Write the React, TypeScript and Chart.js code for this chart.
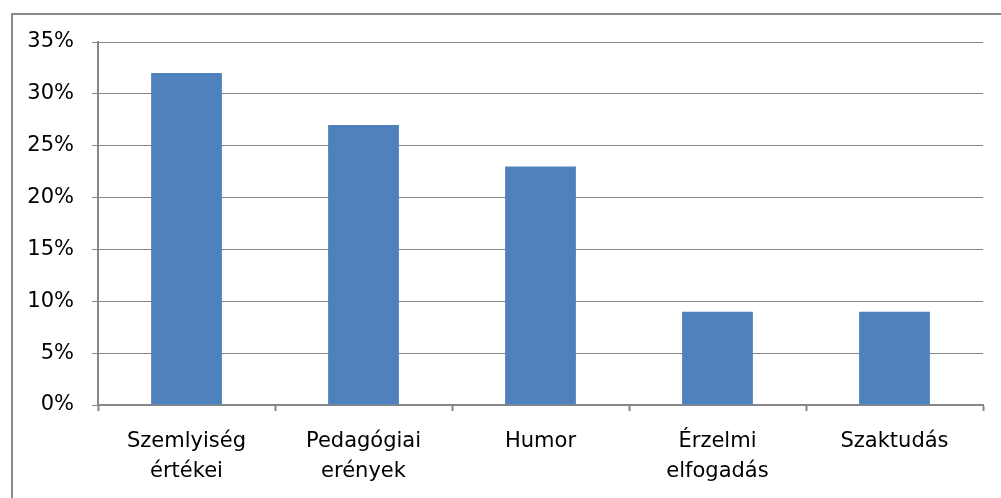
import React, { useEffect, useRef } from "react";
import { Chart, registerables } from "chart.js";

Chart.register(...registerables);

const categories: string[][] = [
  ["Szemlyiség", "értékei"],
  ["Pedagógiai", "erények"],
  ["Humor"],
  ["Érzelmi", "elfogadás"],
  ["Szaktudás"],
];
const values: number[] = [32, 27, 23, 9, 9];
const yMin = 0;
const yMax = 35;
const yStep = 5;

const FONT = "'DejaVu Sans', sans-serif";
const GRID = "#878787";

export default function App() {
  const ref = useRef<HTMLCanvasElement | null>(null);

  useEffect(() => {
    if (!ref.current) return;
    const chart = new Chart(ref.current, {
      type: "bar",
      data: {
        labels: categories,
        datasets: [
          {
            data: values,
            backgroundColor: "#4F81BD",
            borderWidth: 0,
            barPercentage: 0.4,
            categoryPercentage: 1,
          },
        ],
      },
      options: {
        responsive: false,
        animation: false,
        devicePixelRatio: 1,
        layout: { padding: { left: 0, right: 18, top: 42, bottom: 0 } },
        plugins: { legend: { display: false }, tooltip: { enabled: false } },
        scales: {
          x: {
            afterFit: (s: any) => {
              s.height = 93;
            },
            grid: {
              offset: true,
              drawOnChartArea: false,
              drawTicks: true,
              tickLength: 6,
              color: GRID,
              tickColor: GRID,
              tickWidth: 2,
            },
            border: { color: GRID, width: 2 },
            ticks: {
              color: "#000",
              font: { family: FONT, size: 21, lineHeight: 1.43 },
              padding: 16,
              maxRotation: 0,
              autoSkip: false,
            },
          },
          y: {
            min: yMin,
            max: yMax,
            afterFit: (s: any) => {
              s.width = 98;
            },
            grid: {
              color: GRID,
              tickColor: GRID,
              tickLength: 6,
              lineWidth: 1,
            },
            border: { color: GRID, width: 2 },
            ticks: {
              stepSize: yStep,
              color: "#000",
              font: { family: FONT, size: 21 },
              padding: 18,
              callback: (v: any) => v + "%",
            },
          },
        },
      },
    });
    return () => chart.destroy();
  }, []);

  return (
    <div style={{ position: "fixed", left: 0, top: 0, width: 1001, height: 498, background: "#fff", overflow: "hidden" }}>
      <div
        style={{
          position: "absolute",
          left: 11,
          top: 13,
          width: 1100,
          height: 600,
          border: "2px solid #8a8a8a",
          boxSizing: "border-box",
        }}
      />
      <canvas ref={ref} width={1001} height={498} style={{ position: "absolute", left: 0, top: 0, width: 1001, height: 498 }} />
    </div>
  );
}
